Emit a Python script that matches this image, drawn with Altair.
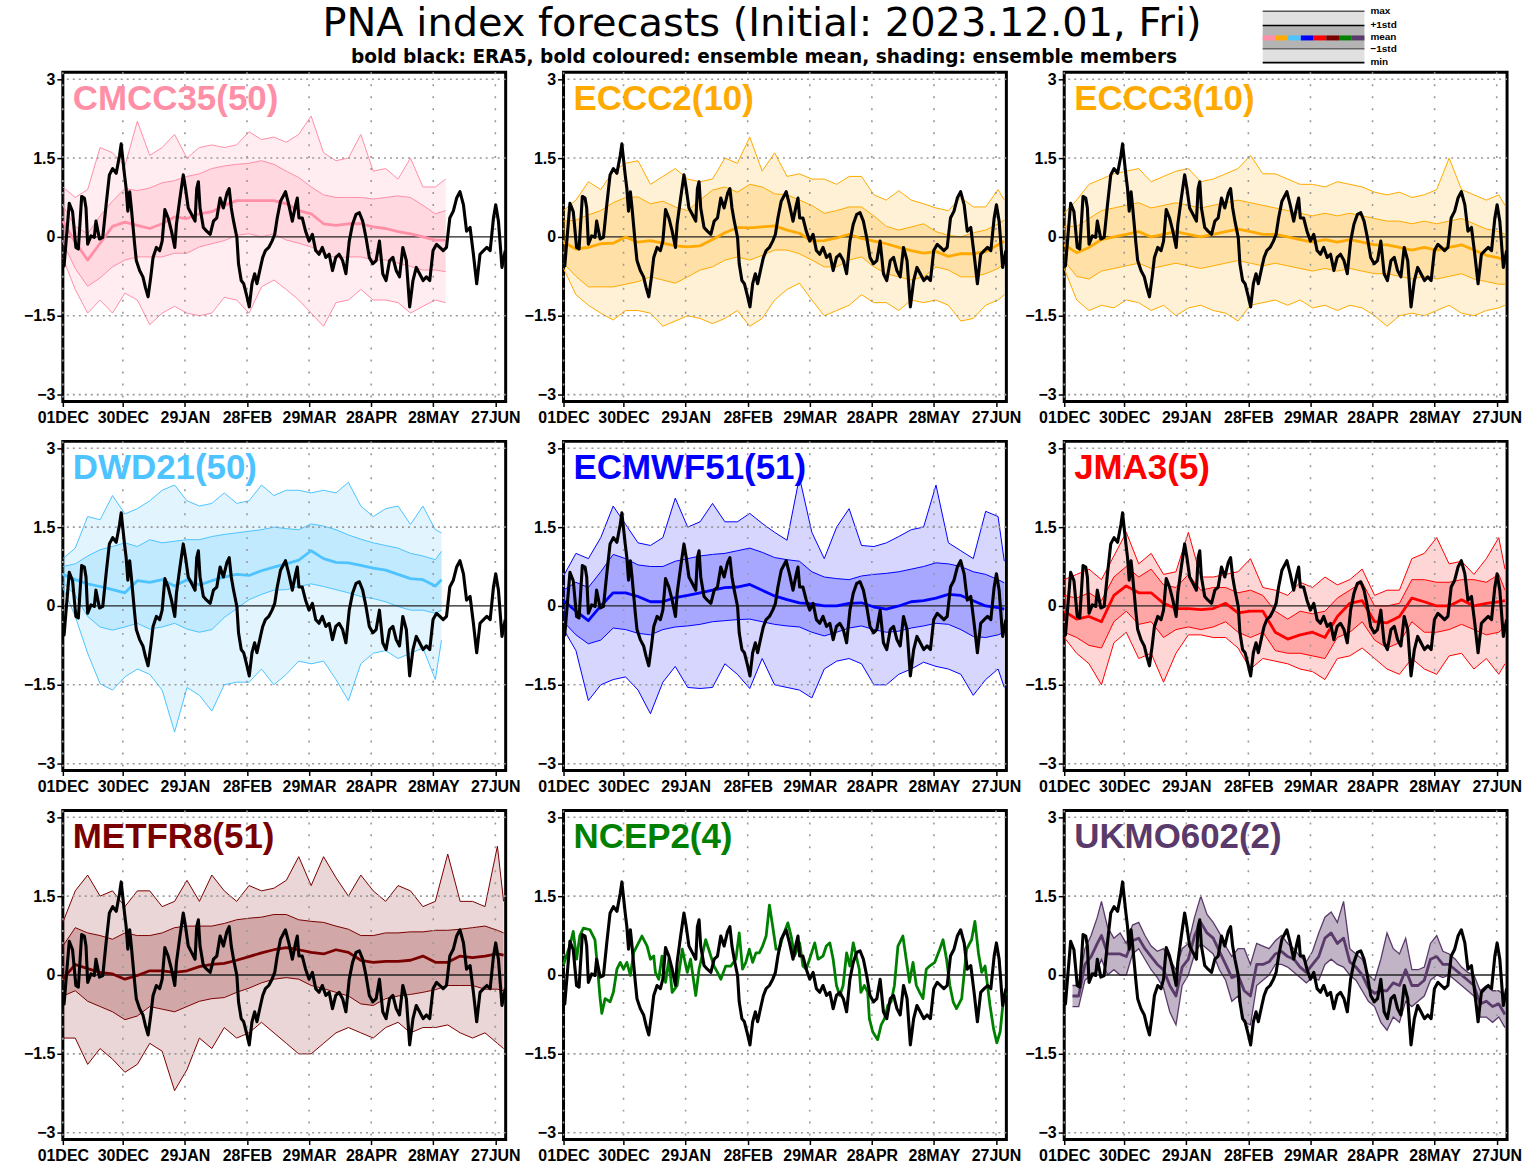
import altair as alt
import pandas as pd

# ---------------------------------------------------------------------------
# Time axis: days since 2023-12-01
# ---------------------------------------------------------------------------
tick_days = [0, 29, 59, 89, 119, 149, 179, 209]
tick_labels = ["01DEC", "30DEC", "29JAN", "28FEB", "29MAR", "28APR", "28MAY", "27JUN"]
y_ticks = [-3, -1.5, 0, 1.5, 3]
y_grid = [-3, -1.5, 1.5, 3]

# ---------------------------------------------------------------------------
# ERA5 PNA index (bold black line, same in every panel)
# ---------------------------------------------------------------------------
era5_day = [0.0, 0.6, 3.1, 4.7, 6.3, 7.5, 9.1, 10.4, 11.2, 12.0,
            13.6, 15.2, 16.0, 17.7, 19.3, 20.9, 22.5, 24.1, 25.8, 27.4,
            28.2, 29.8, 30.6, 31.4, 32.3, 33.1, 34.7, 35.5, 37.1, 38.7,
            39.9, 41.2, 42.5, 43.6, 45.2, 46.8, 48.0, 49.3, 50.9, 52.5,
            54.1, 54.9, 56.6, 58.2, 59.3, 60.6, 62.2, 63.9, 64.7, 65.5,
            66.3, 67.9, 69.5, 71.2, 72.8, 74.4, 76.0, 77.6, 79.3, 80.4,
            81.4, 82.5, 84.1, 84.9, 86.2, 87.4, 89.0, 90.1, 91.4, 92.7,
            93.8, 95.5, 96.6, 97.9, 99.5, 101.1, 102.4, 103.6, 105.2, 107.6,
            109.2, 110.9, 112.5, 113.3, 114.1, 115.7, 117.3, 119.0, 120.6, 122.2,
            123.8, 125.4, 127.1, 128.7, 130.3, 131.9, 133.5, 135.2, 136.8, 138.4,
            140.0, 141.7, 143.3, 144.9, 146.5, 148.1, 149.8, 151.4, 153.0, 154.6,
            156.2, 157.9, 159.5, 161.1, 162.7, 164.3, 166.0, 167.6, 169.2, 170.8,
            172.4, 174.1, 175.7, 177.3, 178.9, 180.6, 182.2, 183.8, 185.4, 187.0,
            188.7, 190.3, 191.9, 193.6, 195.1, 196.8, 198.4, 200.0, 201.6, 203.3,
            204.9, 206.5, 208.1, 209.2, 210.5, 212.2, 213.8]
era5_pna = [-0.51, -0.55, 0.64, 0.48, -0.20, -0.23, 0.77, 0.74, 0.55, -0.14,
            0.02, -0.01, 0.30, -0.04, -0.01, 0.61, 1.18, 1.30, 1.21, 1.55,
            1.77, 1.18, 0.92, 0.49, 0.86, 0.55, -0.14, -0.45, -0.64, -0.76,
            -0.96, -1.14, -0.76, -0.39, -0.20, -0.26, -0.08, 0.52, 0.36, 0.11,
            -0.20, 0.24, 0.74, 1.18, 0.92, 0.55, 0.43, 0.30, 0.92, 1.05,
            0.55, 0.18, 0.11, 0.05, 0.30, 0.36, 0.74, 0.55, 0.83, 0.92,
            0.55, 0.30, -0.01, -0.51, -0.83, -0.89, -1.14, -1.33, -0.89, -0.70,
            -0.89, -0.58, -0.39, -0.26, -0.20, -0.08, 0.05, 0.36, 0.68, 0.86,
            0.61, 0.30, 0.61, 0.74, 0.36, 0.36, 0.11, -0.08, 0.05, -0.26,
            -0.33, -0.20, -0.39, -0.33, -0.64, -0.39, -0.33, -0.45, -0.70, -0.08,
            0.24, 0.43, 0.46, 0.30, -0.01, -0.39, -0.51, -0.45, -0.08, -0.70,
            -0.83, -0.45, -0.39, -0.64, -0.76, -0.20, -0.45, -1.33, -0.83, -0.58,
            -0.70, -0.83, -0.76, -0.83, -0.26, -0.14, -0.20, -0.26, -0.20, 0.36,
            0.49, 0.74, 0.86, 0.61, 0.11, 0.18, -0.33, -0.89, -0.33, -0.26,
            -0.20, -0.26, 0.36, 0.61, 0.30, -0.58, -0.26]

# ---------------------------------------------------------------------------
# Ensemble statistics (6-day grid)
# ---------------------------------------------------------------------------
grid_full = [0, 6, 12, 18, 24, 30, 36, 42, 48, 54, 60, 66, 72, 78, 84, 90, 96, 102,
             108, 114, 120, 126, 132, 138, 144, 150, 156, 162, 168, 174, 180, 186,
             192, 198, 204, 210, 213]
grid_cmcc = [0, 6, 12, 18, 24, 30, 36, 42, 48, 54, 60, 66, 72, 78, 84, 90, 96, 102,
             108, 114, 120, 126, 132, 138, 144, 150, 156, 162, 168, 174, 180, 185]
grid_dwd = [0, 6, 12, 18, 24, 30, 36, 42, 48, 54, 60, 66, 72, 78, 84, 90, 96, 102,
            108, 114, 120, 126, 132, 138, 144, 150, 156, 162, 168, 174, 180, 183]

# CMCC35
cmcc_mean = [0.3, -0.1, -0.44, -0.12, 0.2, 0.28, 0.22, 0.16, 0.25, 0.38, 0.35, 0.44, 0.48, 0.6,
             0.69, 0.69, 0.69, 0.69, 0.63, 0.5, 0.44, 0.25, 0.22, 0.25, 0.25, 0.19, 0.16, 0.1,
             0.06, 0.0, -0.06, -0.06]
cmcc_sd_hi = [0.6, 0.2, 0.06, 0.4, 0.68, 0.92, 0.88, 0.93, 1.03, 1.07, 1.15, 1.2, 1.3, 1.35,
              1.38, 1.4, 1.45, 1.38, 1.25, 1.13, 0.95, 0.8, 0.75, 0.75, 0.75, 0.72, 0.75, 0.78,
              0.75, 0.6, 0.44, 0.5]
cmcc_sd_lo = [-0.1, -0.6, -0.94, -0.78, -0.57, -0.44, -0.38, -0.38, -0.38, -0.31, -0.31, -0.19,
              -0.13, -0.07, 0.03, 0.06, 0.0, 0.06, -0.06, -0.12, -0.19, -0.31, -0.4, -0.38,
              -0.38, -0.44, -0.44, -0.5, -0.56, -0.63, -0.63, -0.66]
cmcc_max = [0.95, 0.75, 0.9, 1.7, 1.6, 1.35, 2.2, 1.55, 1.7, 1.95, 1.5, 1.7, 1.75, 1.7, 1.75,
            2.0, 1.85, 1.9, 1.8, 1.95, 2.3, 1.6, 1.45, 1.5, 1.95, 1.25, 1.3, 1.1, 1.5, 0.95,
            0.95, 1.1]
cmcc_min = [-0.4, -1.0, -1.45, -1.2, -1.45, -1.07, -1.2, -1.67, -1.45, -1.32, -1.45, -1.5,
            -1.45, -1.15, -1.2, -1.45, -0.95, -0.82, -1.0, -1.2, -1.45, -1.7, -1.25, -1.2,
            -1.0, -1.2, -1.2, -1.25, -1.45, -1.32, -1.2, -1.25]

# ECCC2
eccc2_mean = [-0.1, -0.23, -0.2, -0.13, -0.12, 0.0, -0.1, -0.07, -0.12, -0.17, -0.19, -0.17,
              -0.05, 0.08, 0.18, 0.17, 0.19, 0.21, 0.13, 0.07, -0.08, -0.07, -0.02, 0.05,
              -0.03, -0.08, -0.13, -0.2, -0.26, -0.31, -0.28, -0.37, -0.32, -0.32, -0.28,
              -0.15, -0.08]
eccc2_sd_hi = [0.3, 0.32, 0.42, 0.5, 0.65, 0.75, 0.76, 0.63, 0.68, 0.57, 0.5, 0.7, 0.89, 0.95,
               0.85, 1.0, 0.95, 0.82, 0.8, 0.7, 0.6, 0.45, 0.5, 0.57, 0.57, 0.4, 0.2, 0.13,
               0.19, 0.25, 0.1, 0.03, 0.0, 0.08, 0.13, 0.25, 0.32]
eccc2_sd_lo = [-0.5, -0.75, -0.95, -0.95, -0.95, -0.9, -0.85, -0.76, -0.82, -0.88, -0.76,
               -0.63, -0.57, -0.44, -0.38, -0.44, -0.35, -0.25, -0.25, -0.32, -0.44, -0.57,
               -0.57, -0.44, -0.38, -0.57, -0.7, -0.76, -0.82, -0.76, -0.57, -0.63, -0.76,
               -0.76, -0.7, -0.6, -0.5]
eccc2_max = [0.5, 0.7, 1.05, 0.9, 1.25, 1.4, 1.45, 1.0, 1.15, 1.3, 1.1, 1.05, 1.1, 1.5, 1.4,
             1.9, 1.25, 1.6, 1.15, 1.2, 1.1, 1.1, 1.0, 1.15, 1.15, 0.8, 0.7, 0.88, 0.7, 0.63,
             0.55, 0.5, 0.75, 0.57, 0.57, 0.9, 0.7]
eccc2_min = [-0.6, -1.1, -1.3, -1.45, -1.58, -1.4, -1.4, -1.45, -1.7, -1.6, -1.5, -1.55,
             -1.65, -1.55, -1.4, -1.7, -1.55, -1.2, -1.0, -0.88, -1.2, -1.5, -1.4, -1.3,
             -1.1, -1.25, -1.25, -1.4, -1.2, -1.25, -1.2, -1.3, -1.6, -1.55, -1.3, -1.2, -1.1]

# ECCC3
eccc3_mean = [-0.15, -0.3, -0.2, -0.05, 0.0, 0.05, 0.1, 0.0, 0.05, 0.1, 0.05, 0.0, 0.05, 0.1,
              0.15, 0.1, 0.05, 0.05, 0.0, -0.05, -0.1, -0.05, -0.1, -0.05, -0.1, -0.15, -0.15,
              -0.2, -0.25, -0.2, -0.25, -0.2, -0.15, -0.25, -0.35, -0.4, -0.45]
eccc3_sd_hi = [0.2, 0.2, 0.35, 0.5, 0.55, 0.6, 0.65, 0.55, 0.6, 0.65, 0.6, 0.55, 0.6, 0.65,
               0.7, 0.65, 0.6, 0.55, 0.5, 0.45, 0.4, 0.45, 0.4, 0.45, 0.4, 0.35, 0.3, 0.3,
               0.25, 0.3, 0.25, 0.3, 0.35, 0.25, 0.15, 0.1, 0.05]
eccc3_sd_lo = [-0.45, -0.75, -0.8, -0.65, -0.6, -0.55, -0.5, -0.6, -0.55, -0.5, -0.55, -0.6,
               -0.55, -0.5, -0.45, -0.5, -0.55, -0.5, -0.55, -0.6, -0.65, -0.6, -0.65, -0.6,
               -0.65, -0.7, -0.7, -0.75, -0.8, -0.75, -0.8, -0.75, -0.7, -0.8, -0.85, -0.9, -0.9]
eccc3_max = [0.45, 0.7, 1.0, 1.1, 1.2, 1.25, 1.3, 1.05, 1.15, 1.25, 1.3, 1.05, 1.1, 1.2, 1.3,
             1.55, 1.2, 1.2, 1.1, 1.0, 1.0, 0.95, 1.05, 1.0, 0.95, 0.85, 0.8, 0.85, 0.75, 0.8,
             0.9, 1.5, 0.9, 0.8, 0.7, 0.8, 0.6]
eccc3_min = [-0.6, -1.2, -1.4, -1.3, -1.35, -1.2, -1.25, -1.4, -1.3, -1.5, -1.35, -1.3, -1.4,
             -1.45, -1.6, -1.3, -1.25, -1.2, -1.3, -1.2, -1.35, -1.3, -1.4, -1.3, -1.35, -1.5,
             -1.7, -1.5, -1.45, -1.5, -1.4, -1.3, -1.45, -1.5, -1.4, -1.35, -1.3]

# DWD21
dwd_mean = [0.6, 0.5, 0.42, 0.37, 0.31, 0.25, 0.48, 0.45, 0.5, 0.38, 0.5, 0.4, 0.48, 0.55, 0.6,
            0.58, 0.67, 0.74, 0.8, 0.87, 1.05, 0.9, 0.83, 0.82, 0.77, 0.72, 0.68, 0.6, 0.52, 0.5,
            0.38, 0.5]
dwd_sd_hi = [0.75, 0.8, 0.95, 1.07, 1.13, 1.2, 1.13, 1.26, 1.2, 1.23, 1.26, 1.26, 1.32, 1.36,
             1.39, 1.42, 1.45, 1.5, 1.47, 1.45, 1.56, 1.52, 1.45, 1.35, 1.27, 1.2, 1.15, 1.1,
             1.0, 0.95, 0.88, 1.04]
dwd_sd_lo = [0.45, 0.2, -0.2, -0.4, -0.46, -0.4, -0.33, -0.44, -0.4, -0.33, -0.44, -0.5, -0.45,
             -0.22, -0.05, 0.12, 0.22, 0.3, 0.31, 0.37, 0.42, 0.37, 0.31, 0.25, 0.18, 0.14,
             0.08, -0.01, -0.08, -0.08, -0.14, -0.08]
dwd_max = [0.9, 1.1, 1.7, 1.64, 2.1, 1.75, 1.85, 2.0, 2.2, 2.3, 2.0, 1.9, 1.95, 2.15, 1.95, 2.0,
           2.3, 2.1, 2.2, 2.2, 2.15, 2.2, 2.15, 2.35, 1.9, 1.7, 1.85, 1.9, 1.55, 1.9, 1.45, 1.39]
dwd_min = [0.35, -0.2, -0.9, -1.48, -1.6, -1.35, -1.2, -1.3, -1.6, -2.4, -1.55, -1.7, -2.0,
           -1.5, -1.45, -1.45, -1.2, -1.5, -1.3, -1.05, -1.1, -1.05, -1.4, -1.8, -1.1, -0.9,
           -0.85, -1.0, -0.9, -0.8, -1.4, -0.65]

# ECMWF51
ecmwf_mean = [0.1, -0.1, -0.28, 0.0, 0.25, 0.25, 0.18, 0.08, 0.08, 0.16, 0.2, 0.25, 0.3, 0.35,
              0.36, 0.41, 0.3, 0.19, 0.12, 0.06, 0.04, 0.0, 0.0, 0.05, 0.06, -0.02, -0.06, 0.0,
              0.08, 0.1, 0.15, 0.22, 0.2, 0.1, 0.0, -0.03, -0.06]
ecmwf_sd_hi = [0.3, 0.45, 0.35, 0.65, 0.98, 0.9, 0.78, 0.75, 0.75, 0.85, 0.9, 0.95, 0.98, 1.0,
               1.05, 1.1, 1.02, 0.92, 0.88, 0.85, 0.65, 0.55, 0.52, 0.5, 0.57, 0.6, 0.62, 0.65,
               0.7, 0.75, 0.82, 0.8, 0.75, 0.65, 0.6, 0.5, 0.44]
ecmwf_sd_lo = [-0.3, -0.55, -0.72, -0.65, -0.42, -0.45, -0.52, -0.55, -0.45, -0.4, -0.38,
               -0.35, -0.3, -0.28, -0.26, -0.25, -0.3, -0.35, -0.38, -0.4, -0.5, -0.57, -0.5,
               -0.42, -0.38, -0.45, -0.5, -0.48, -0.42, -0.38, -0.33, -0.35, -0.45, -0.58,
               -0.6, -0.55, -0.5]
ecmwf_max = [0.57, 1.0, 0.9, 1.3, 1.9, 1.55, 1.2, 1.15, 1.3, 2.05, 1.5, 1.6, 1.95, 1.6, 1.6,
             1.76, 1.57, 1.4, 1.25, 2.45, 1.4, 0.9, 1.5, 1.85, 1.15, 1.13, 1.2, 1.32, 1.45, 1.5,
             2.3, 1.2, 1.05, 0.9, 1.8, 1.7, 0.85]
ecmwf_min = [-0.44, -0.85, -1.8, -1.5, -1.4, -1.35, -1.6, -2.05, -1.45, -1.15, -1.55, -1.57,
             -1.55, -1.1, -1.3, -1.57, -1.0, -1.5, -1.55, -1.6, -1.75, -1.2, -1.05, -1.0, -1.1,
             -1.5, -1.5, -1.3, -1.2, -1.07, -1.15, -1.2, -1.3, -1.7, -1.4, -1.2, -1.55]

# JMA3
jma_mean = [-0.1, -0.25, -0.2, -0.3, 0.2, 0.38, 0.25, 0.25, 0.05, -0.05, -0.05, -0.07, -0.05,
            0.05, -0.13, -0.1, -0.1, -0.5, -0.63, -0.55, -0.5, -0.6, -0.2, 0.05, 0.1, -0.3,
            -0.32, -0.2, 0.15, 0.08, 0.0, 0.0, 0.12, 0.0, 0.05, 0.08, 0.1]
jma_sd_hi = [0.2, 0.15, 0.25, 0.1, 0.55, 0.75, 0.55, 0.7, 0.4, 0.35, 0.6, 0.3, 0.35, 0.35, 0.25,
             0.3, 0.2, -0.1, -0.25, -0.1, -0.15, -0.1, 0.15, 0.3, 0.45, 0.0, 0.0, 0.05, 0.5,
             0.5, 0.45, 0.45, 0.5, 0.5, 0.45, 0.6, 0.3]
jma_sd_lo = [-0.5, -0.6, -0.75, -0.8, -0.3, -0.1, -0.35, -0.3, -0.6, -0.45, -0.4, -0.45, -0.4,
             -0.3, -0.5, -0.6, -0.5, -0.85, -0.9, -0.9, -0.95, -1.0, -0.6, -0.5, -0.3, -0.65,
             -0.8, -0.7, -0.3, -0.5, -0.5, -0.45, -0.35, -0.45, -0.55, -0.5, -0.4]
jma_max = [0.5, 0.6, 0.7, 0.5, 0.95, 1.4, 0.8, 1.0, 0.6, 0.65, 1.4, 0.55, 0.55, 0.6, 0.65, 0.9,
           0.35, 0.3, 0.2, 0.45, 0.35, 0.55, 0.4, 0.5, 0.7, 0.2, 0.3, 0.3, 0.9, 1.0, 1.3, 0.8,
           0.85, 0.6, 0.9, 1.3, 0.7]
jma_min = [-0.6, -0.9, -1.1, -1.5, -0.7, -0.5, -1.0, -0.9, -1.45, -0.9, -0.55, -0.55, -0.6,
           -0.6, -0.8, -1.2, -1.0, -1.05, -1.1, -1.2, -1.25, -1.4, -1.0, -0.95, -0.8, -1.0,
           -1.2, -1.3, -1.0, -1.2, -1.3, -0.95, -0.9, -1.2, -1.0, -1.3, -1.1]

# METFR8
metfr_mean = [-0.08, 0.2, 0.12, 0.05, 0.02, -0.08, -0.01, 0.08, 0.08, 0.05, 0.08, 0.16, 0.2,
              0.22, 0.28, 0.35, 0.42, 0.48, 0.52, 0.48, 0.43, 0.4, 0.48, 0.43, 0.28, 0.24,
              0.26, 0.26, 0.28, 0.36, 0.24, 0.24, 0.36, 0.33, 0.36, 0.4, 0.38]
metfr_sd_hi = [0.55, 0.9, 0.8, 0.75, 0.68, 0.8, 0.75, 0.75, 0.8, 0.9, 0.93, 0.93, 0.93, 0.98,
               1.05, 1.08, 1.1, 1.15, 1.15, 1.05, 1.02, 1.0, 0.93, 0.87, 0.75, 0.75, 0.8, 0.8,
               0.82, 0.82, 0.85, 0.85, 0.87, 0.9, 0.93, 0.85, 0.8]
metfr_sd_lo = [-0.4, -0.3, -0.5, -0.6, -0.7, -0.85, -0.78, -0.6, -0.65, -0.7, -0.6, -0.5,
               -0.45, -0.43, -0.33, -0.25, -0.15, -0.08, -0.05, -0.08, -0.2, -0.26, -0.33,
               -0.4, -0.55, -0.58, -0.45, -0.4, -0.37, -0.33, -0.28, -0.2, -0.2, -0.2, -0.27,
               -0.27, -0.3]
metfr_max = [1.0, 1.6, 1.9, 1.5, 1.6, 1.3, 1.6, 1.6, 1.3, 1.4, 1.8, 1.4, 1.9, 1.6, 1.4, 1.7,
             1.6, 1.65, 1.8, 2.25, 1.7, 2.25, 1.85, 1.5, 1.9, 1.6, 1.4, 1.7, 1.6, 1.3, 1.4,
             2.3, 1.4, 1.4, 1.3, 2.45, 1.4]
metfr_min = [-1.2, -1.2, -1.7, -1.4, -1.6, -1.85, -1.7, -1.3, -1.45, -2.2, -1.8, -1.2, -1.4,
             -1.0, -1.2, -1.1, -0.9, -1.1, -1.3, -1.5, -1.5, -1.3, -1.1, -1.0, -1.1, -1.2,
             -1.0, -0.9, -1.1, -1.0, -1.0, -0.95, -1.1, -1.2, -1.1, -1.3, -1.4]

# NCEP2 (ensemble mean only)
ncep_day = [0.0, 3.0, 4.7, 6.3, 7.9, 9.6, 12.8, 15.2, 16.5, 17.7, 18.5, 20.1, 22.5, 24.1, 25.8,
            27.4, 29.0, 30.6, 32.3, 33.9, 37.9, 40.4, 42.0, 43.6, 44.4, 46.0, 47.6, 49.3, 50.9,
            52.5, 54.9, 57.4, 59.8, 61.4, 63.9, 65.5, 68.7, 72.7, 74.4, 76.0, 78.4, 80.8, 83.3,
            84.9, 86.5, 88.1, 89.8, 91.4, 93.0, 94.6, 96.2, 97.9, 99.5, 101.1, 102.7, 104.3,
            106.0, 108.4, 110.0, 111.6, 114.1, 115.7, 117.3, 118.9, 121.4, 123.0, 125.4,
            127.0, 128.7, 130.3, 131.9, 133.5, 135.1, 136.8, 138.4, 140.0, 142.9, 143.7,
            145.4, 147.0, 147.8, 149.4, 151.8, 153.5, 155.1, 156.7, 158.3, 159.9, 161.6,
            164.0, 165.6, 167.2, 168.9, 170.5, 172.1, 173.7, 175.3, 176.9, 179.4, 181.8,
            183.4, 185.1, 186.7, 188.3, 189.9, 192.4, 194.8, 197.2, 198.8, 200.5, 202.1,
            203.7, 206.1, 207.8, 209.4, 211.0, 212.6, 214.0]
ncep_mean = [0.2, 0.55, 0.83, 0.30, 0.75, 0.89, 0.86, 0.67, 0.10, -0.45, -0.73, -0.45, -0.51,
             -0.33, 0.11, 0.24, 0.11, 0.24, -0.01, 0.43, 0.74, 0.55, 0.30, 0.36, 0.05, -0.08,
             0.36, -0.14, 0.30, -0.33, -0.20, 0.49, 0.05, 0.30, -0.39, 0.11, 0.67, 0.17, 0.05,
             -0.08, 0.17, 0.17, 0.30, 0.80, 0.11, 0.24, 0.49, 0.24, 0.42, 0.42, 0.55, 0.74,
             1.33, 0.92, 0.49, 0.49, 0.74, 0.99, 0.74, 0.36, 0.61, 0.17, 0.11, 0.30, 0.61,
             0.30, 0.36, 0.55, 0.61, 0.30, -0.20, -0.39, -0.20, 0.42, 0.17, 0.61, 0.11, -0.33,
             -0.20, -0.33, -0.83, -1.08, -1.23, -0.95, -0.83, -0.58, -0.51, -0.20, 0.55, 0.74,
             0.30, -0.14, 0.24, -0.20, -0.33, -0.45, 0.11, 0.17, 0.24, 0.49, 0.67, 0.30, -0.20,
             -0.51, -0.64, -0.45, 0.49, 0.67, 1.02, 0.42, 0.05, 0.17, -0.58, -1.02, -1.29,
             -1.08, -0.45, -0.33]

# UKMO602 (two members: min, max and mean)
ukmo_day = [4, 7, 10, 13, 16, 18, 21, 24, 27, 30, 33, 36, 39, 42, 45, 48, 51, 54, 57, 60,
            63, 66, 69, 72, 75, 78, 81, 84, 87, 90, 93, 96, 99, 102, 105, 108, 111, 114, 117,
            120, 123, 126, 129, 132, 135, 138, 141, 144, 147, 150, 153, 156, 159, 162, 165,
            168, 171, 174, 177, 180, 183, 186, 189, 192, 195, 198, 201, 204, 207, 210, 213]
ukmo_max = [-0.2, -0.2, 0.5, 0.75, 1.1, 1.4, 0.9, 0.7, 0.8, 0.6, 0.95, 1.0, 0.75, 0.55, 0.45,
            0.5, 0.3, 0.1, 0.5, 0.6, 1.1, 1.5, 1.15, 1.0, 0.8, 0.55, 0.35, 0.5, 0.5, 0.2, 0.6,
            0.55, 0.5, 0.65, 0.75, 0.6, 0.5, 0.35, 0.25, 0.45, 0.8, 1.1, 1.2, 1.0, 1.4, 0.5,
            0.4, 0.3, 0.0, -0.1, 0.3, 0.8, 0.5, 0.4, 0.7, 0.1, 0.1, 0.15, 0.6, 0.75, 0.45, 0.4,
            0.3, 0.15, 0.05, 0.0, -0.3, -0.2, -0.3, -0.3, -0.4]
ukmo_min = [-0.6, -0.6, -0.1, 0.0, 0.1, 0.3, 0.0, 0.1, 0.0, 0.0, 0.4, 0.5, 0.3, 0.1, -0.05,
            -0.25, -0.7, -0.95, -0.2, 0.0, 0.4, 0.6, 0.5, 0.4, 0.1, -0.1, -0.5, -0.4, -0.9,
            -0.95, -0.2, -0.1, 0.0, 0.2, 0.2, 0.15, 0.05, -0.05, -0.15, -0.05, -0.1, 0.2, 0.3,
            0.2, 0.15, 0.0, -0.1, -0.3, -0.5, -0.6, -0.9, -1.05, -0.8, -0.9, -0.5, -0.6, -0.5,
            -0.4, -0.1, 0.0, -0.05, 0.0, -0.1, -0.2, -0.3, -0.4, -0.8, -0.8, -0.9, -0.8, -1.0]
ukmo_mean = [-0.4, -0.4, 0.2, 0.35, 0.6, 0.75, 0.4, 0.4, 0.4, 0.35, 0.65, 0.7, 0.5, 0.35, 0.2,
             0.1, -0.2, -0.4, 0.15, 0.3, 0.75, 1.0, 0.8, 0.7, 0.45, 0.2, -0.05, 0.0, -0.3,
             -0.4, 0.2, 0.2, 0.25, 0.4, 0.45, 0.35, 0.3, 0.15, 0.05, 0.2, 0.35, 0.7, 0.8, 0.6,
             0.7, 0.25, 0.15, 0.0, -0.25, -0.35, -0.3, -0.3, -0.15, -0.2, 0.1, -0.2, -0.2,
             -0.1, 0.3, 0.35, 0.2, 0.2, 0.1, 0.0, -0.1, -0.2, -0.55, -0.5, -0.6, -0.55, -0.75]

models = [
    dict(label="CMCC35(50)", color="#FF8FA6", day=grid_cmcc, mean=cmcc_mean,
         sd_hi=cmcc_sd_hi, sd_lo=cmcc_sd_lo, mx=cmcc_max, mn=cmcc_min),
    dict(label="ECCC2(10)", color="#FFAA00", day=grid_full, mean=eccc2_mean,
         sd_hi=eccc2_sd_hi, sd_lo=eccc2_sd_lo, mx=eccc2_max, mn=eccc2_min),
    dict(label="ECCC3(10)", color="#FFAA00", day=grid_full, mean=eccc3_mean,
         sd_hi=eccc3_sd_hi, sd_lo=eccc3_sd_lo, mx=eccc3_max, mn=eccc3_min),
    dict(label="DWD21(50)", color="#4DC3FF", day=grid_dwd, mean=dwd_mean,
         sd_hi=dwd_sd_hi, sd_lo=dwd_sd_lo, mx=dwd_max, mn=dwd_min),
    dict(label="ECMWF51(51)", color="#0000FF", day=grid_full, mean=ecmwf_mean,
         sd_hi=ecmwf_sd_hi, sd_lo=ecmwf_sd_lo, mx=ecmwf_max, mn=ecmwf_min),
    dict(label="JMA3(5)", color="#FF0000", day=grid_full, mean=jma_mean,
         sd_hi=jma_sd_hi, sd_lo=jma_sd_lo, mx=jma_max, mn=jma_min),
    dict(label="METFR8(51)", color="#7A0000", day=grid_full, mean=metfr_mean,
         sd_hi=metfr_sd_hi, sd_lo=metfr_sd_lo, mx=metfr_max, mn=metfr_min),
    dict(label="NCEP2(4)", color="#008000", day=ncep_day, mean=ncep_mean),
    dict(label="UKMO602(2)", color="#5A3A6A", day=ukmo_day, mean=ukmo_mean,
         mx=ukmo_max, mn=ukmo_min),
]

legend_colors = ["#FF8FA6", "#FFAA00", "#4DC3FF", "#0000FF", "#FF0000", "#7A0000",
                 "#008000", "#5A3A6A"]
legend_names = ["max", "+1std", "mean", "\u22121std", "min"]

TITLE = "PNA index forecasts (Initial: 2023.12.01, Fri)"
SUBTITLE = "bold black: ERA5, bold coloured: ensemble mean, shading: ensemble members"

# ---------------------------------------------------------------------------
# Shared scales / axes
# ---------------------------------------------------------------------------
PW, PH = 444, 330
AX_FONT = "Liberation Sans"
GRID_COLOR = "#9a9a9a"
XS = alt.Scale(domain=[0, 214], nice=False, zero=False)
YS = alt.Scale(domain=[-3.13, 3.13], nice=False, zero=False)

x_label_expr = ("[" + ",".join("'%s'" % t for t in tick_labels) + "][indexof(["
                + ",".join(str(d) for d in tick_days) + "], datum.value)]")

X_AXIS = alt.Axis(values=tick_days, labelExpr=x_label_expr, grid=False, domain=False,
                  ticks=True, tickSize=5, tickColor="black", tickWidth=1.5,
                  labelFont=AX_FONT, labelFontSize=16, labelFontWeight="bold",
                  labelColor="black", labelPadding=3, labelOverlap=False,
                  labelFlush=False, zindex=1)
Y_AXIS = alt.Axis(values=y_ticks, labelExpr="format(datum.value, '~g')", grid=False,
                  domain=False, ticks=True, tickSize=6, tickColor="black", tickWidth=1.5,
                  labelFont=AX_FONT, labelFontSize=16, labelFontWeight="bold",
                  labelColor="black", labelPadding=2, labelOverlap=False,
                  labelFlush=False, zindex=1)


def X(field):
    return alt.X(f"{field}:Q", scale=XS, axis=X_AXIS, title=None)


def Y(field):
    return alt.Y(f"{field}:Q", scale=YS, axis=Y_AXIS, title=None)


one_row = pd.DataFrame({"k": [0]})
era5_df = pd.DataFrame({"day": era5_day, "pna": era5_pna})
xgrid_df = pd.DataFrame({"d": tick_days})
ygrid_df = pd.DataFrame({"v": y_grid})


def panel(m, extra=()):
    c = m["color"]
    cols = {"day": m["day"], "mean": m["mean"]}
    for key in ("sd_hi", "sd_lo", "mx", "mn"):
        if key in m:
            cols[key] = m[key]
    df = pd.DataFrame(cols)
    base = alt.Chart(df)
    layers = []
    two_member = "mx" in m and "sd_hi" not in m
    if "mx" in m:
        layers.append(base.mark_area(color=c, opacity=0.38 if two_member else 0.16)
                      .encode(x=X("day"), y=Y("mn"), y2=alt.Y2("mx")))
    if "sd_hi" in m:
        layers.append(base.mark_area(color=c, opacity=0.22)
                      .encode(x=X("day"), y=Y("sd_lo"), y2=alt.Y2("sd_hi")))
    for key in ("mx", "mn", "sd_hi", "sd_lo"):
        if key in m:
            layers.append(base.mark_line(color=c, strokeWidth=1.3 if two_member else 1.0)
                          .encode(x=X("day"), y=Y(key)))
    # dotted grid drawn over the shading
    layers.append(alt.Chart(xgrid_df)
                  .mark_rule(color=GRID_COLOR, strokeWidth=1.6, strokeDash=[2, 10])
                  .encode(x=X("d")))
    layers.append(alt.Chart(ygrid_df)
                  .mark_rule(color=GRID_COLOR, strokeWidth=1.6, strokeDash=[2, 4])
                  .encode(y=Y("v")))
    layers.append(alt.Chart(pd.DataFrame({"v": [0]}))
                  .mark_rule(color="#222222", strokeWidth=1.3).encode(y=Y("v")))
    layers.append(base.mark_line(color=c, strokeWidth=2.8, strokeJoin="round")
                  .encode(x=X("day"), y=Y("mean")))
    layers.append(alt.Chart(era5_df)
                  .mark_line(color="black", strokeWidth=3.1, strokeJoin="round")
                  .encode(x=X("day"), y=Y("pna")))
    layers.append(alt.Chart(pd.DataFrame({"name": [m["label"]]}))
                  .mark_text(align="left", baseline="alphabetic", font=AX_FONT,
                             fontSize=35, fontWeight="bold", color=c)
                  .encode(x=alt.value(10), y=alt.value(38), text="name:N"))
    layers.extend(extra)
    return alt.layer(*layers).properties(width=PW, height=PH)


# Title block, placed above the middle panel of the first row
title_layers = [
    alt.Chart(pd.DataFrame({"t": [TITLE]}))
    .mark_text(align="center", baseline="middle", font="DejaVu Sans", fontSize=40,
               color="black")
    .encode(x=alt.value(199), y=alt.value(-48), text="t:N"),
    alt.Chart(pd.DataFrame({"t": [SUBTITLE]}))
    .mark_text(align="center", baseline="middle", font="DejaVu Sans", fontSize=18.6,
               fontWeight="bold", color="black")
    .encode(x=alt.value(201), y=alt.value(-15), text="t:N"),
]

# Key for the shading, placed above the right panel of the first row
LX0, LX1 = 199, 301
band_edges = [-61.3, -47.0, -23.7, -9.7]
key_layers = [
    alt.Chart(one_row).mark_rect(color="#e0e0e0")
    .encode(x=alt.value(LX0), x2=alt.value(LX1), y=alt.value(band_edges[0]),
            y2=alt.value(band_edges[1])),
    alt.Chart(one_row).mark_rect(color="#b4b4b4")
    .encode(x=alt.value(LX0), x2=alt.value(LX1), y=alt.value(band_edges[1]),
            y2=alt.value(band_edges[2])),
    alt.Chart(one_row).mark_rect(color="#e0e0e0")
    .encode(x=alt.value(LX0), x2=alt.value(LX1), y=alt.value(band_edges[2]),
            y2=alt.value(band_edges[3])),
]
seg = (LX1 - LX0) / len(legend_colors)
for i, col in enumerate(legend_colors):
    key_layers.append(alt.Chart(one_row).mark_rect(color=col)
                      .encode(x=alt.value(LX0 + i * seg), x2=alt.value(LX0 + (i + 1) * seg),
                              y=alt.value(-37.0), y2=alt.value(-32.0)))
for yv, col in zip(band_edges, ["#555555", "#000000", "#666666", "#000000"]):
    key_layers.append(alt.Chart(one_row).mark_rule(color=col, strokeWidth=1.6)
                      .encode(x=alt.value(LX0), x2=alt.value(LX1), y=alt.value(yv)))
for name, yv in zip(legend_names, [-61.0, -47.5, -35.0, -23.0, -10.0]):
    key_layers.append(alt.Chart(pd.DataFrame({"t": [name]}))
                      .mark_text(align="left", baseline="middle", font=AX_FONT,
                                 fontSize=10, fontWeight="bold", color="black")
                      .encode(x=alt.value(307), y=alt.value(yv), text="t:N"))

panels = []
for idx, m in enumerate(models):
    if idx == 1:
        panels.append(panel(m, title_layers))
    elif idx == 2:
        panels.append(panel(m, key_layers))
    else:
        panels.append(panel(m))

chart = (
    alt.concat(*panels, columns=3, spacing={"row": 40, "column": 58}, bounds="flush")
    .properties(padding={"left": 21, "top": 1, "right": 5, "bottom": 5},
                background="white")
    .configure_view(stroke="black", strokeWidth=3)
)

chart.save("out.html", embed_options={"renderer": "svg", "actions": False})
